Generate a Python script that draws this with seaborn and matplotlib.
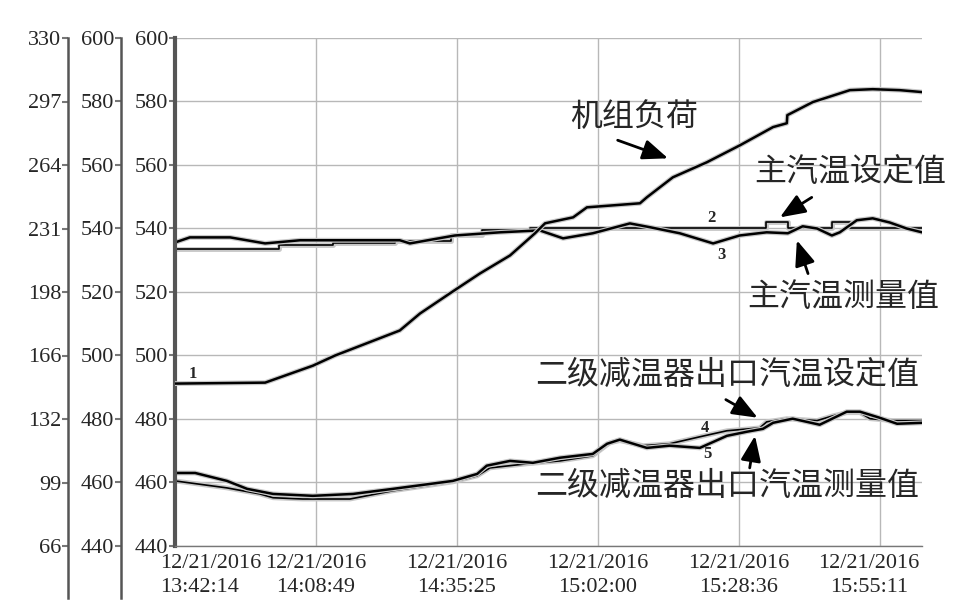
import matplotlib
matplotlib.use('Agg')
import matplotlib.pyplot as plt
import matplotlib.patheffects as pe
import matplotlib.transforms as mtransforms
import numpy as np
import pandas as pd
import seaborn as sns

# time axis (minutes after 13:42:14) and tick labels
tick_minutes = [0, 26.583, 53.183, 79.767, 106.367, 132.95]
tick_labels = ['12/21/2016\n13:42:14', '12/21/2016\n14:08:49', '12/21/2016\n14:35:25',
               '12/21/2016\n15:02:00', '12/21/2016\n15:28:36', '12/21/2016\n15:55:11']
t_end = 140.9

temp_ticks = [440, 460, 480, 500, 520, 540, 560, 580, 600]
load_ticks = ['66', '99', '132', '166', '198', '231', '264', '297', '330']

# 1: unit load (outer axis)
load_t = [0, 17.0, 26.0, 30.2, 42.4, 46.2, 52.4, 57.5, 63.2, 67.9, 69.8, 75.1, 77.7, 87.7,
          89.0, 93.9, 100.3, 106.6, 112.8, 115.4, 115.5, 120.3, 127.3, 131.6, 136.7, 140.9]
load_v = [150.4, 150.9, 159.7, 165.0, 178.0, 186.8, 198.3, 207.6, 217.0, 228.5, 233.7, 236.8,
          242.0, 244.1, 247.2, 257.6, 265.4, 274.3, 283.7, 285.7, 289.9, 296.7, 302.9, 303.4,
          302.9, 301.9]

# 2: main steam temperature set point
ms_set_t = [0, 19.6, 29.8, 41.5, 52.0, 58.0, 67.0, 111.5, 115.6, 123.9, 127.3, 140.9]
ms_set_v = [533.7, 534.7, 535.3, 536.0, 537.8, 539.4, 540.0, 541.9, 540.0, 541.9, 540.0, 540.0]

# 3: main steam temperature measured
ms_meas_t = [0, 2.8, 10.4, 17.0, 23.6, 42.4, 44.3, 52.8, 61.3, 68.8, 73.2, 78.8, 85.8, 89.6,
             95.2, 101.5, 106.5, 111.6, 115.6, 118.4, 121.1, 123.9, 125.4, 128.6, 131.6,
             134.8, 138.0, 140.9]
ms_meas_v = [535.6, 537.2, 537.2, 535.3, 536.3, 536.3, 535.3, 537.8, 538.8, 539.4, 536.9,
             538.5, 541.6, 540.4, 538.5, 535.3, 537.8, 538.8, 538.5, 540.7, 540.0, 537.8,
             538.8, 542.6, 543.2, 541.9, 540.0, 538.8]

# 4: desuperheater outlet temperature set point
ds_set_t = [0, 9.8, 16.0, 18.5, 24.1, 33.0, 41.1, 52.4, 57.0, 59.4, 66.4, 72.6, 78.8, 82.0,
            83.9, 88.3, 93.3, 99.0, 104.1, 110.3, 111.6, 115.4, 121.1, 124.1, 126.7, 129.2,
            131.1, 135.4, 140.9]
ds_set_v = [460.5, 458.3, 456.4, 455.2, 454.8, 454.8, 457.4, 460.2, 462.1, 464.6, 465.9,
            466.8, 468.4, 472.5, 473.2, 471.6, 472.2, 474.4, 476.3, 477.2, 479.1, 480.1,
            479.5, 481.0, 482.0, 482.0, 480.1, 479.5, 479.5]

# 5: desuperheater outlet temperature measured
ds_meas_t = [0, 3.8, 9.8, 13.6, 18.5, 26.0, 33.6, 41.1, 52.4, 57.0, 58.8, 63.2, 67.5, 72.6,
             78.8, 81.5, 83.9, 89.0, 93.3, 99.0, 104.1, 107.9, 110.9, 112.8, 116.5, 121.6,
             126.7, 129.2, 132.9, 136.2, 140.9]
ds_meas_v = [463.0, 463.0, 460.5, 458.0, 456.4, 455.8, 456.4, 458.0, 460.5, 462.7, 465.3,
             466.8, 466.2, 467.8, 469.0, 472.2, 473.5, 470.9, 471.6, 470.9, 474.7, 476.0,
             476.9, 478.8, 480.1, 478.2, 482.3, 482.3, 480.4, 478.5, 478.8]

sns.set_style('white')
plt.rcParams['font.family'] = ['Liberation Serif', 'Noto Sans CJK SC']
plt.rcParams['font.size'] = 16

fig = plt.figure(figsize=(9.8, 6.14), dpi=100)
ax = fig.add_axes([175 / 980, 1 - 546 / 614, (922 - 175) / 980, (546 - 38) / 614])
ax_mid = ax.twinx()
ax_out = ax.twinx()

halo = [pe.Stroke(linewidth=3.5, foreground='#c8c8c8'), pe.Normal()]

sns.lineplot(x=ms_set_t, y=ms_set_v, ax=ax, color='black', lw=1.2,
             drawstyle='steps-post', path_effects=halo, estimator=None)
sns.lineplot(x=ms_meas_t, y=ms_meas_v, ax=ax, color='black', lw=1.8,
             path_effects=halo, estimator=None)
sns.lineplot(x=ds_set_t, y=ds_set_v, ax=ax, color='black', lw=1.2,
             path_effects=halo, estimator=None)
sns.lineplot(x=ds_meas_t, y=ds_meas_v, ax=ax, color='black', lw=1.8,
             path_effects=halo, estimator=None)
sns.lineplot(x=load_t, y=load_v, ax=ax_out, color='black', lw=1.8,
             path_effects=halo, estimator=None)

# inner temperature axis
ax.set_xlim(0, t_end)
ax.set_ylim(440, 600)
ax.set_yticks(temp_ticks)
ax.set_xticks(tick_minutes)
ax.set_xticklabels(tick_labels, linespacing=1.3)
ax.grid(True, color='#b8b8b8', lw=1)
ax.tick_params(axis='y', direction='out', length=4, width=1.5, color='#777777', pad=1)
ax.tick_params(axis='x', length=0, pad=6)
for s in ['top', 'right']:
    ax.spines[s].set_visible(False)
ax.spines['left'].set_color('#555555')
ax.spines['left'].set_linewidth(3)
ax.spines['bottom'].set_color('#777777')
ax.spines['bottom'].set_linewidth(1)
ax.set_xlabel('')
ax.set_ylabel('')

# nudge first and last date labels inward
xl = ax.get_xticklabels()
xl[0].set_horizontalalignment('left')
xl[0].set_transform(xl[0].get_transform() + mtransforms.ScaledTranslation(-15 / 100, 0, fig.dpi_scale_trans))
xl[-1].set_transform(xl[-1].get_transform() + mtransforms.ScaledTranslation(-11 / 100, 0, fig.dpi_scale_trans))

# middle and outer axes
for a, off, lo, hi, labels, ext in [(ax_mid, 54, 440, 600, [str(v) for v in temp_ticks], 423.6),
                                     (ax_out, 107, 66, 330, load_ticks, 39)]:
    a.set_ylim(lo, hi)
    a.set_yticks(np.linspace(lo, hi, 9))
    a.set_yticklabels(labels)
    a.yaxis.set_ticks_position('left')
    a.spines['left'].set_position(('outward', off * 0.72))
    a.spines['left'].set_visible(True)
    a.spines['left'].set_color('#555555')
    a.spines['left'].set_linewidth(1.8)
    a.spines['left'].set_bounds(ext, hi)
    for s in ['top', 'right', 'bottom']:
        a.spines[s].set_visible(False)
    a.tick_params(axis='y', direction='out', length=4, width=1.5, color='#777777', pad=1)
    a.set_ylabel('')
    a.grid(False)

# annotations
cjk = dict(fontsize=23, family=['Noto Sans CJK SC', 'DejaVu Sans'], ha='center', va='center')
num = dict(fontsize=12, fontweight='bold', ha='center', va='center')
arrow = dict(arrowstyle='-|>,head_length=0.7,head_width=0.28', color='black', lw=2,
             mutation_scale=22, shrinkA=0, shrinkB=0)

ax.text(86.6, 575.1, '机组负荷', **cjk)
ax.annotate('', xy=(93.0, 562.1), xytext=(83.5, 567.8), arrowprops=arrow)
ax.text(127.3, 557.7, '主汽温设定值', **cjk)
ax.annotate('', xy=(114.1, 543.5), xytext=(120.1, 549.8), arrowprops=arrow)
ax.text(126.0, 518.3, '主汽温测量值', **cjk)
ax.annotate('', xy=(117.3, 536.3), xytext=(119.4, 525.8), arrowprops=arrow)
ax.text(104.1, 494.0, '二级减温器出口汽温设定值', **cjk)
ax.annotate('', xy=(109.9, 480.4), xytext=(103.9, 486.1), arrowprops=arrow)
ax.text(104.1, 458.9, '二级减温器出口汽温测量值', **cjk)
ax.annotate('', xy=(109.4, 474.7), xytext=(108.4, 464.6), arrowprops=arrow)

ax.text(3.4, 494.3, '1', **num)
ax.text(101.1, 543.2, '2', **num)
ax.text(103.0, 531.5, '3', **num)
ax.text(99.9, 477.2, '4', **num)
ax.text(100.5, 469.0, '5', **num)

fig.savefig('out.png', dpi=100)
